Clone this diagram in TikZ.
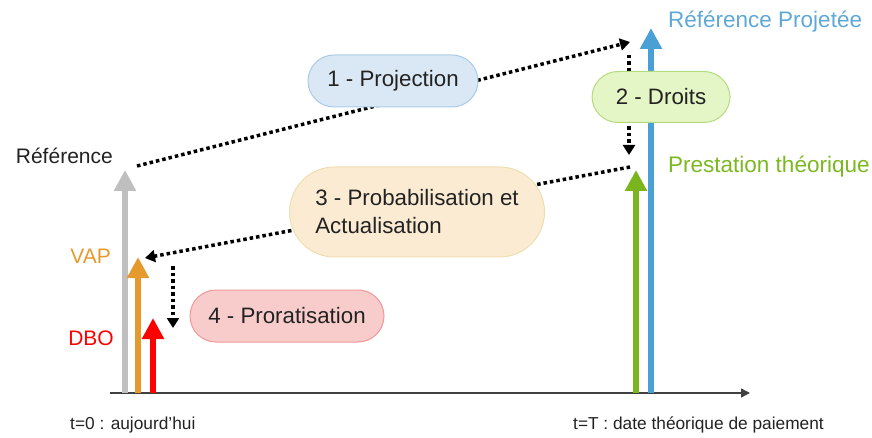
\documentclass[tikz,border=0pt]{standalone}
\usepackage{fontspec}
\setmainfont{Liberation Sans}
\usetikzlibrary{arrows.meta}
\definecolor{cgray}{HTML}{BFBFBF}
\definecolor{corange}{HTML}{E69A2E}
\definecolor{cred}{HTML}{FF0000}
\definecolor{cgreen}{HTML}{7AB51D}
\definecolor{cblue}{HTML}{4A9FD5}
\definecolor{tblue}{HTML}{5EA8D8}
\definecolor{tgreen}{HTML}{7CB820}
\definecolor{b1fill}{HTML}{DAE8F5}\definecolor{b1draw}{HTML}{A9CBE8}
\definecolor{b2fill}{HTML}{E4F5C6}\definecolor{b2draw}{HTML}{B5DB7F}
\definecolor{b3fill}{HTML}{FBEBD3}\definecolor{b3draw}{HTML}{EEDFB0}
\definecolor{b4fill}{HTML}{F9CCCC}\definecolor{b4draw}{HTML}{F29898}
\definecolor{txt}{HTML}{222222}
\tikzset{
  bar/.style={line width=6pt, -{Triangle[width=21pt,length=21pt]}},
  dots/.style={line width=3.5pt, dash pattern=on 3.5pt off 3pt, black, -{Triangle[width=12pt,length=10pt]}},
  pill/.style={rounded corners=26pt, line width=1pt, inner sep=0pt, font=\fontsize{22.3}{28}\selectfont, text=txt},
  lab/.style={font=\fontsize{21}{25}\selectfont, inner sep=0pt},
  rlab/.style={font=\fontsize{22.5}{26}\selectfont, inner sep=0pt},
  tlab/.style={font=\fontsize{17.3}{20}\selectfont, inner sep=0pt, text=txt}
}
\begin{document}
\begin{tikzpicture}[x=1pt,y=-1pt]
\useasboundingbox (0,0) rectangle (872,438);
% axis
\coordinate (ax0) at (110,393);
\coordinate (ax1) at (750,393);
\draw[line width=1.5pt, black!75, -{Triangle[width=9pt,length=9pt]}] (ax0) -- (ax1);
% vertical bars
\coordinate (g0) at (125,393); \coordinate (g1) at (125,170);
\coordinate (o0) at (138,393); \coordinate (o1) at (138,257);
\coordinate (r0) at (153,393); \coordinate (r1) at (153,318);
\coordinate (gr0) at (636,393); \coordinate (gr1) at (636,170);
\coordinate (bl0) at (651,393); \coordinate (bl1) at (651,28);
\draw[bar, cgray] (g0) -- (g1);
\draw[bar, corange] (o0) -- (o1);
\draw[bar, cred] (r0) -- (r1);
\draw[bar, cgreen] (gr0) -- (gr1);
\draw[bar, cblue] (bl0) -- (bl1);
% dotted connectors
\coordinate (d1a) at (137,166); \coordinate (d1b) at (630,42);
\coordinate (d2a) at (629,55);  \coordinate (d2b) at (629,155);
\coordinate (d3a) at (630,167); \coordinate (d3b) at (145,258);
\coordinate (d4a) at (173,266); \coordinate (d4b) at (173,328);
\draw[dots] (d1a) -- (d1b);
\draw[dots] (d2a) -- (d2b);
\draw[dots] (d3a) -- (d3b);
\draw[dots] (d4a) -- (d4b);
% boxes
\node[pill, fill=b1fill, draw=b1draw, minimum width=170pt, minimum height=52pt] (b1) at (393,81) {1 - Projection};
\node[pill, fill=b2fill, draw=b2draw, minimum width=138pt, minimum height=51pt] (b2) at (661,97) {2 - Droits};
\node[pill, fill=b3fill, draw=b3draw, minimum width=255pt, minimum height=90pt, rounded corners=45pt, align=left] (b3) at (417,212) {3 - Probabilisation et\\Actualisation};
\node[pill, fill=b4fill, draw=b4draw, minimum width=194pt, minimum height=52pt] (b4) at (287,316) {4 - Proratisation};
% labels
\node[lab, text=txt, anchor=east] (lref) at (113,156) {Référence};
\node[lab, text=corange, anchor=east] (lvap) at (111,256) {VAP};
\node[lab, text=cred, anchor=east] (ldbo) at (114,338) {DBO};
\node[rlab, text=tblue, anchor=west] (lrp) at (668,22) {Référence Projetée};
\node[rlab, text=tgreen, anchor=west] (lpt) at (668,167) {Prestation théorique};
\node[tlab, anchor=west] (t0) at (70,425) {t=0 : aujourd'hui};
\node[tlab, anchor=west] (tT) at (573,425) {t=T : date théorique de paiement};
\end{tikzpicture}
\end{document}
